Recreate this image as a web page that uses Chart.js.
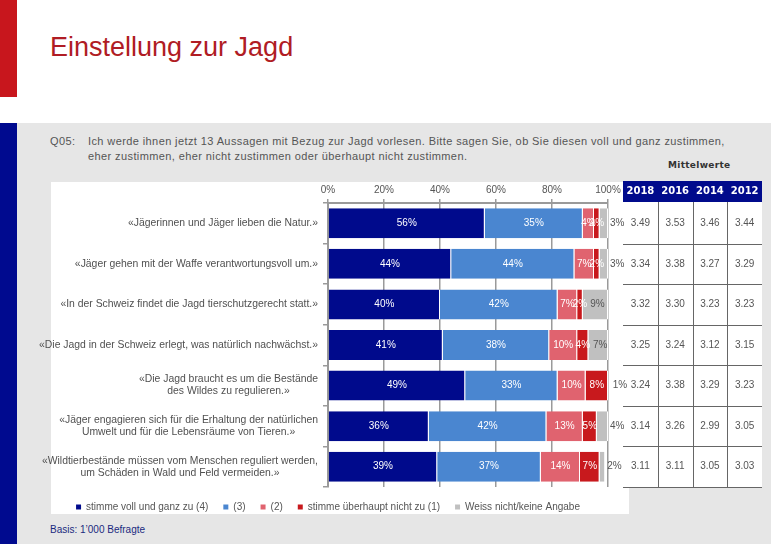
<!DOCTYPE html>
<html><head><meta charset="utf-8">
<script src="https://cdn.jsdelivr.net/npm/chart.js@4.4.1/dist/chart.umd.min.js"></script>
<style>
html,body{margin:0;padding:0;width:771px;height:544px;overflow:hidden;background:#fff;font-family:"Liberation Sans",Arial,sans-serif;}
.abs{position:absolute;}
#redbar{left:0;top:0;width:17px;height:97px;background:#c8161d;}
#title{left:50px;top:34px;font-size:27px;color:#b01c24;white-space:nowrap;line-height:1;}
#graybg{left:0;top:123px;width:771px;height:421px;background:#e6e6e6;}
#bluestrip{left:0;top:123px;width:17px;height:421px;background:#000a8f;}
#qnum{left:50px;top:134px;font-size:11px;line-height:15px;color:#555;letter-spacing:0.4px;}
#qtext{left:88px;top:134px;font-size:11px;line-height:15px;color:#555;white-space:nowrap;letter-spacing:0.4px;}
#panel{left:51px;top:182px;width:578px;height:332px;background:#fff;}
#tablebg{left:623px;top:202px;width:139px;height:285px;background:#fff;}
#mw{left:668px;top:161px;font-family:"DejaVu Sans",sans-serif;font-size:9px;line-height:1;font-weight:bold;color:#333;letter-spacing:0.3px;}
#basis{left:50px;top:525px;font-size:10px;line-height:1;color:#1a2a80;}
canvas{position:absolute;left:0;top:0;}
</style>
</head>
<body>
<div id="redbar" class="abs"></div>
<div id="title" class="abs">Einstellung zur Jagd</div>
<div id="graybg" class="abs"></div>
<div id="bluestrip" class="abs"></div>
<div id="qnum" class="abs">Q05:</div>
<div id="qtext" class="abs">Ich werde ihnen jetzt 13 Aussagen mit Bezug zur Jagd vorlesen. Bitte sagen Sie, ob Sie diesen voll und ganz zustimmen,<br>eher zustimmen, eher nicht zustimmen oder überhaupt nicht zustimmen.</div>
<div id="mw" class="abs">Mittelwerte</div>
<div id="panel" class="abs"></div>
<div id="tablebg" class="abs"></div>
<div id="basis" class="abs">Basis: 1’000 Befragte</div>
<canvas id="c" width="771" height="544"></canvas>
<script>
const categories = [
  "«Jägerinnen und Jäger lieben die Natur.»",
  "«Jäger gehen mit der Waffe verantwortungsvoll um.»",
  "«In der Schweiz findet die Jagd tierschutzgerecht statt.»",
  "«Die Jagd in der Schweiz erlegt, was natürlich nachwächst.»",
  ["«Die Jagd braucht es um die Bestände", "des Wildes zu regulieren.»"],
  ["«Jäger engagieren sich für die Erhaltung der natürlichen", "Umwelt und für die Lebensräume von Tieren.»"],
  ["«Wildtierbestände müssen vom Menschen reguliert werden,", "um Schäden in Wald und Feld vermeiden.»"]
];
const seriesNames = ["stimme voll und ganz zu (4)", "(3)", "(2)", "stimme überhaupt nicht zu (1)", "Weiss nicht/keine Angabe"];
const fullAgree = [56, 44, 40, 41, 49, 36, 39];
const ratherAgree = [35, 44, 42, 38, 33, 42, 37];
const ratherNot = [4, 7, 7, 10, 10, 13, 14];
const notAtAll = [2, 2, 2, 4, 8, 5, 7];
const dontKnow = [3, 3, 9, 7, 1, 4, 2];
const xTickStep = 20;
const years = ["2018", "2016", "2014", "2012"];
const mean2018 = [3.49, 3.34, 3.32, 3.25, 3.24, 3.14, 3.11];
const mean2016 = [3.53, 3.38, 3.30, 3.24, 3.38, 3.26, 3.11];
const mean2014 = [3.46, 3.27, 3.23, 3.12, 3.29, 2.99, 3.05];
const mean2012 = [3.44, 3.29, 3.23, 3.15, 3.23, 3.05, 3.03];

const colors = ["#000a8c", "#4a86d0", "#e0636f", "#c8191d", "#c0c0c0"];
const FONT = '"Liberation Sans", Arial, sans-serif';
const seriesData = [fullAgree, ratherAgree, ratherNot, notAtAll, dontKnow];
const meanTable = [mean2018, mean2016, mean2014, mean2012];

const barLabels = {
  id: 'barLabels',
  afterDatasetsDraw(chart) {
    const ctx = chart.ctx;
    ctx.save();
    ctx.font = '10px ' + FONT;
    ctx.textBaseline = 'middle';
    chart.data.datasets.forEach((ds, di) => {
      const meta = chart.getDatasetMeta(di);
      meta.data.forEach((bar, i) => {
        const txt = ds.data[i] + '%';
        const l = Math.min(bar.x, bar.base), r = Math.max(bar.x, bar.base);
        const w = r - l;
        if (di === 4) {
          ctx.fillStyle = '#555';
          if (w < 15) { ctx.textAlign = 'left'; ctx.fillText(txt, r + 2, bar.y); }
          else { ctx.textAlign = 'center'; ctx.fillText(txt, (l + r) / 2 + 2, bar.y); }
        } else {
          ctx.fillStyle = '#fff';
          ctx.textAlign = 'center';
          ctx.fillText(txt, (l + r) / 2, bar.y);
        }
      });
    });
    ctx.restore();
  }
};

const sideText = {
  id: 'sideText',
  afterDraw(chart) {
    const ctx = chart.ctx;
    const y = chart.scales.y;
    const area = chart.chartArea;
    ctx.save();
    ctx.font = '10.4px ' + FONT;
    ctx.fillStyle = '#505050';
    ctx.textBaseline = 'middle';
    ctx.textAlign = 'center';
    const rightEdge = y.right - 10;
    categories.forEach((lab, i) => {
      const lines = Array.isArray(lab) ? lab : [lab];
      const cy = y.getPixelForValue(i);
      const maxW = Math.max(...lines.map(s => ctx.measureText(s).width));
      const cx = rightEdge - maxW / 2;
      lines.forEach((s, j) => {
        ctx.fillText(s, cx, cy + (j - (lines.length - 1) / 2) * 12);
      });
    });
    const tx0 = 623, tx1 = 762;
    const cw = (tx1 - tx0) / years.length;
    ctx.fillStyle = '#000a8c';
    ctx.fillRect(tx0, area.top - 22, tx1 - tx0, 21);
    ctx.fillStyle = '#fff';
    ctx.font = 'bold 10px "DejaVu Sans", sans-serif';
    years.forEach((yr, k) => ctx.fillText(yr, tx0 + cw * (k + 0.5), area.top - 11.5));
    ctx.font = '10px ' + FONT;
    ctx.fillStyle = '#555';
    meanTable.forEach((col, k) => {
      col.forEach((v, i) => ctx.fillText(v.toFixed(2), tx0 + cw * (k + 0.5), y.getPixelForValue(i)));
    });
    ctx.strokeStyle = '#666';
    ctx.lineWidth = 1;
    ctx.beginPath();
    for (let k = 1; k < years.length; k++) {
      const x = Math.round(tx0 + cw * k) + 0.5;
      ctx.moveTo(x, area.top - 1); ctx.lineTo(x, area.bottom);
    }
    for (let i = 0; i < categories.length; i++) {
      const yy = Math.round(y.getPixelForValue(i + 0.5)) + 0.5;
      ctx.moveTo(tx0, yy); ctx.lineTo(tx1, yy);
    }
    ctx.stroke();
    ctx.restore();
  }
};

new Chart(document.getElementById('c'), {
  type: 'bar',
  data: {
    labels: categories,
    datasets: seriesNames.map((n, i) => ({
      label: n,
      data: seriesData[i],
      backgroundColor: colors[i],
      borderColor: '#ffffff',
      borderWidth: {top: 0, bottom: 0, left: 0, right: 1},
      borderSkipped: false,
      barPercentage: 0.74,
      categoryPercentage: 1
    }))
  },
  options: {
    indexAxis: 'y',
    responsive: false,
    devicePixelRatio: 1,
    animation: false,
    layout: {padding: {left: 48, right: 163, top: 173, bottom: 22}},
    scales: {
      x: {
        position: 'top', stacked: true, min: 0, max: 100,
        ticks: {stepSize: xTickStep, callback: v => v + '%', color: '#555', font: {size: 10, family: FONT}, padding: 3, maxRotation: 0},
        grid: {color: '#9a9a9a', lineWidth: 1.5, tickLength: 4},
        border: {color: '#9a9a9a', width: 2},
        afterFit: s => { s.height = 30; }
      },
      y: {
        stacked: true,
        ticks: {display: false},
        grid: {drawOnChartArea: false, tickLength: 5, color: '#9a9a9a', lineWidth: 1.5, offset: true},
        border: {color: '#9a9a9a', width: 2},
        afterFit: s => { s.width = 280; }
      }
    },
    plugins: {
      legend: {
        position: 'bottom', align: 'center',
        labels: {
          boxWidth: 5, boxHeight: 5, padding: 15, color: '#555', font: {size: 10, family: FONT},
          generateLabels: chart => chart.data.datasets.map((d, i) => ({
            text: d.label, fillStyle: d.backgroundColor, strokeStyle: d.backgroundColor, lineWidth: 0, hidden: false, datasetIndex: i, fontColor: '#555'
          }))
        }
      },
      tooltip: {enabled: false},
      title: {display: false}
    }
  },
  plugins: [barLabels, sideText]
});
</script>
</body></html>
